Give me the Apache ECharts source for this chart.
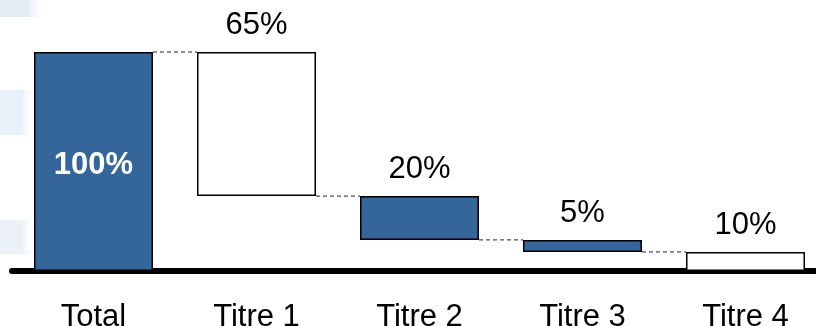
<!DOCTYPE html>
<html>
<head>
<meta charset="utf-8">
<script src="https://cdn.jsdelivr.net/npm/echarts@6/dist/echarts.min.js"></script>
<style>
  html, body { margin: 0; padding: 0; background: #fff; }
  #chart { width: 816px; height: 326px; }
</style>
</head>
<body>
<div id="chart"></div>
<script>
// waterfall: base (invisible part) + visible size, in % of total
var categories = ['Total', 'Titre 1', 'Titre 2', 'Titre 3', 'Titre 4'];
var barBase = [0, 34.2, 14.2, 8.7, 0];
var barSize = [100, 65.8, 20, 5.5, 8.7];
var barLabels = ['100%', '65%', '20%', '5%', '10%'];
var barFilled = [true, false, true, true, false];

var BLUE = '#34669a';
var FONT = '"Liberation Sans", Arial, sans-serif';
var BAR_W = 119;

var chart = echarts.init(document.getElementById('chart'));

var visibleData = [];
for (var i = 0; i < categories.length; i++) {
    var item = {
        value: barSize[i],
        itemStyle: { color: barFilled[i] ? BLUE : '#fff' },
        label: {
            show: true,
            formatter: barLabels[i],
            position: 'top',
            distance: 11,
            color: '#000',
            fontSize: 31,
            fontFamily: FONT
        }
    };
    if (i === 0) {
        item.label.position = 'inside';
        item.label.color = '#fff';
        item.label.fontWeight = 'bold';
        item.label.offset = [0, 4];
    }
    visibleData.push(item);
}

// connector level between bar i and bar i+1 = top of bar i+1
var connectors = [];
for (var j = 0; j < categories.length - 1; j++) {
    connectors.push([j, barBase[j + 1] + barSize[j + 1]]);
}

function fade(c) {
    return new echarts.graphic.LinearGradient(0, 0, 1, 0, [
        { offset: 0, color: c },
        { offset: 0.6, color: c },
        { offset: 1, color: 'rgba(255,255,255,0)' }
    ]);
}

var option = {
    animation: false,
    backgroundColor: '#fff',
    graphic: [
        { type: 'rect', z: -10, shape: { x: 0, y: 0, width: 46, height: 17 }, style: { fill: fade('#e4ecf6') } },
        { type: 'rect', z: -10, shape: { x: 0, y: 90, width: 36, height: 45 }, style: { fill: fade('#eaf0f8') } },
        { type: 'rect', z: -10, shape: { x: 0, y: 220, width: 36, height: 34 }, style: { fill: fade('#ecf1f8') } }
    ],
    grid: { left: 12, right: -11, top: 52, bottom: 55, outerBoundsMode: 'none' },
    xAxis: {
        type: 'category',
        data: categories,
        offset: 2.5,
        axisLine: { lineStyle: { color: '#000', width: 6 } },
        axisTick: { show: false },
        axisLabel: { color: '#000', fontSize: 31, fontFamily: FONT, margin: 28 }
    },
    yAxis: {
        type: 'value',
        min: 0,
        max: 100,
        show: false
    },
    series: [
        {
            type: 'bar',
            stack: 'w',
            barWidth: BAR_W,
            itemStyle: { color: 'transparent' },
            silent: true,
            data: barBase
        },
        {
            type: 'bar',
            stack: 'w',
            barWidth: BAR_W,
            itemStyle: { borderColor: '#000', borderWidth: 1.5 },
            data: visibleData
        },
        {
            type: 'custom',
            z: 1,
            data: connectors,
            renderItem: function (params, api) {
                var p = api.coord([api.value(0), api.value(1)]);
                var step = api.size([1, 0])[0];
                var x1 = p[0] + BAR_W / 2;
                var x2 = p[0] + step - BAR_W / 2;
                return {
                    type: 'line',
                    shape: { x1: x1, y1: p[1], x2: x2, y2: p[1] },
                    style: { stroke: '#222', lineWidth: 1, lineDash: [4, 3] }
                };
            }
        }
    ]
};

chart.setOption(option);
</script>
</body>
</html>
